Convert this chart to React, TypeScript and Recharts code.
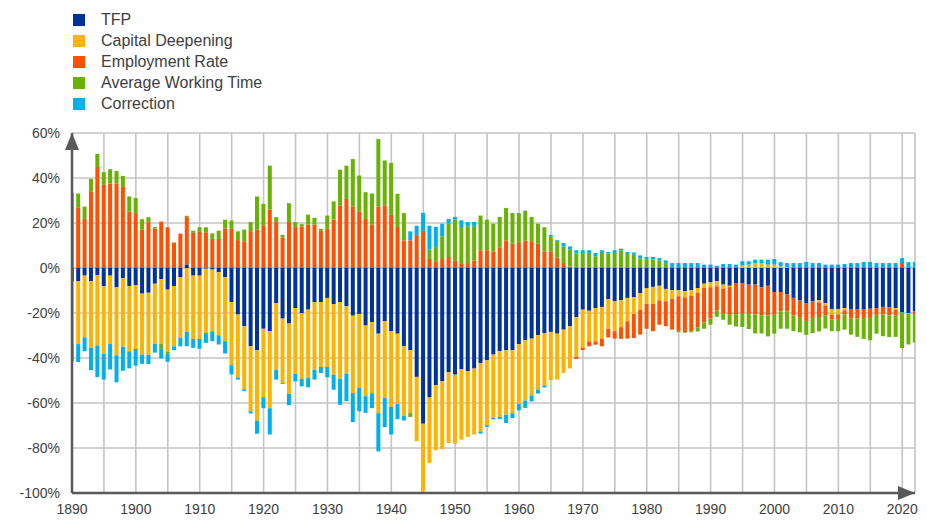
import React from 'react';
import { BarChart, Bar, XAxis, YAxis, CartesianGrid } from 'recharts';

// one value per year, 1890 .. 2022 (percent)
const firstYear = 1890;

const tfp = [
  -5.9, -5.9, -3.4, -5.9, -3.1, -8.1, -3.4, -8.6, -4.6, -8.0,
  -7.6, -11.4, -11.0, -7.0, -5.0, -9.6, -8.0, -4.0, 1.6, -3.4,
  -3.4, -0.3, -0.7, -1.9, -4.1, -15.1, -20.7, -25.9, -34.8, -36.6,
  -27.0, -28.1, -15.6, -22.5, -24.7, -17.8, -20.0, -18.5, -15.1, -15.1,
  -13.3, -16.0, -15.1, -17.0, -21.2, -20.4, -25.6, -24.0, -29.2, -23.7,
  -28.1, -29.2, -34.8, -36.6, -48.4, -69.2, -57.5, -52.1, -50.4, -46.4,
  -47.4, -44.9, -45.9, -44.7, -42.2, -41.0, -38.5, -37.0, -36.6, -36.6,
  -33.8, -32.1, -31.4, -29.9, -28.9, -28.4, -29.2, -27.4, -25.9, -21.9,
  -18.5, -19.0, -17.8, -17.3, -13.8, -14.8, -14.4, -13.3, -13.0, -11.1,
  -8.9, -8.4, -7.9, -9.3, -9.9, -9.9, -10.4, -9.9, -8.9, -7.0,
  -6.4, -5.9, -7.4, -7.9, -6.7, -6.7, -7.4, -7.4, -8.6, -7.9,
  -10.7, -10.7, -11.6, -13.3, -14.5, -15.6, -14.8, -14.4, -15.6, -18.2,
  -18.2, -17.8, -18.5, -18.5, -18.5, -18.1, -17.8, -17.3, -17.5, -17.8,
  -19.7, -20.0, -19.3,
];

const capitalDeepening = [
  -27.9, -27.9, -27.4, -29.6, -31.3, -30.1, -30.4, -30.2, -30.4, -29.0,
  -28.4, -27.1, -27.6, -26.7, -28.7, -27.6, -26.5, -27.1, -28.4, -28.1,
  -28.1, -28.6, -27.4, -28.0, -28.4, -28.1, -27.9, -28.1, -28.9, -31.3,
  -30.4, -34.2, -29.6, -28.6, -31.3, -29.3, -29.3, -30.4, -30.1, -28.9,
  -30.7, -31.4, -34.1, -29.9, -34.4, -32.9, -31.4, -31.6, -35.3, -34.1,
  -33.6, -31.3, -30.8, -27.9, -28.6, -30.1, -29.2, -28.9, -30.1, -31.4,
  -30.8, -31.4, -29.2, -29.3, -30.4, -28.9, -28.1, -29.2, -28.6, -27.9,
  -26.7, -26.8, -25.2, -24.1, -23.3, -21.5, -20.4, -19.3, -18.7, -17.6,
  -17.0, -13.6, -14.8, -14.1, -13.2, -13.3, -11.9, -10.4, -7.4, -7.4,
  -7.1, -7.6, -6.5, -5.5, -3.9, -2.7, -2.7, -2.4, -2.2, -1.8,
  -2.2, -2.2, -1.8, -0.6, 0, 1.2, 1.5, 2.2, 2.2, 1.5,
  1.5, 0.7, 0.4, 0, 0, 0, 0, -0.9, -1.0, -2.5,
  -2.5, -1.0, 0, 0, 0, 0, 0, 0, 0, -0.7,
  0, -0.4, 0,
];

const employmentRate = [
  27.7, 27.0, 21.8, 34.1, 44.9, 37.0, 37.5, 37.5, 36.0, 25.0,
  24.4, 17.0, 20.4, 17.5, 20.6, 18.1, 11.3, 15.3, 21.0, 15.6,
  16.3, 15.9, 13.0, 12.9, 17.5, 17.5, 12.4, 11.9, 16.4, 17.0,
  19.0, 25.9, 20.4, 13.5, 20.4, 18.2, 18.5, 19.3, 19.3, 16.4,
  17.5, 21.5, 27.7, 30.7, 27.4, 25.2, 21.8, 19.3, 27.4, 27.9,
  23.7, 18.2, 12.3, 12.3, 14.6, 16.5, 4.0, 3.0, 4.0, 4.9,
  3.3, 1.8, 2.2, 3.3, 7.9, 7.9, 7.4, 9.2, 12.3, 10.8,
  11.1, 12.3, 11.9, 10.8, 7.4, 7.4, 4.7, 2.2, 0.7, -0.9,
  -1.0, -2.2, -1.5, -3.4, -3.9, -3.3, -5.2, -7.7, -10.7, -11.1,
  -11.0, -12.1, -10.8, -11.1, -13.6, -15.3, -15.4, -15.9, -15.3, -15.4,
  -13.9, -10.8, -10.8, -12.3, -13.8, -13.3, -12.6, -13.3, -12.4, -13.2,
  -10.1, -8.6, -7.7, -7.7, -7.3, -7.9, -7.4, -6.5, -4.4, -2.2,
  -1.9, -1.9, -4.0, -4.0, -3.7, -4.1, -3.0, -3.4, -3.6, -2.5,
  2.2, 0.4, -1.5,
];

const averageWorkingTime = [
  5.6, 6.1, 5.5, 5.5, 5.8, 5.6, 6.4, 5.6, 4.9, 6.8,
  6.7, 4.7, 2.2, 0.7, -2.2, -0.9, -0.4, 0, 0.6, 1.0,
  1.8, 2.2, 2.4, 3.7, 4.0, 3.6, 3.9, 5.2, 4.0, 14.8,
  9.5, 19.6, 2.2, 1.2, 8.4, 2.2, 1.0, 4.4, 3.0, 1.0,
  5.8, 8.1, 16.0, 14.8, 21.0, 15.9, 11.9, 13.8, 29.9, 19.9,
  23.0, 14.8, 12.1, -1.7, 0, 0, 4.1, 6.4, 10.1, 14.8,
  18.2, 16.4, 16.3, 15.0, 15.4, 13.6, 12.3, 13.5, 14.4, 13.6,
  13.3, 13.2, 10.8, 8.9, 10.7, 6.7, 7.4, 7.4, 7.4, 6.4,
  6.7, 6.7, 5.2, 6.7, 6.4, 6.7, 7.9, 6.2, 5.9, 4.3,
  3.7, 3.7, 3.4, 2.2, 0.4, -0.6, -0.3, -0.4, -1.8, -2.8,
  -2.7, -2.8, -3.0, -4.4, -5.5, -6.2, -7.1, -8.4, -8.1, -9.3,
  -8.4, -7.7, -7.7, -7.1, -6.8, -6.2, -6.7, -6.4, -5.9, -5.2,
  -5.5, -6.7, -7.1, -8.1, -9.3, -9.9, -8.4, -9.6, -9.6, -9.6,
  -15.9, -13.6, -12.3,
];

const correction = [
  -7.7, -8.0, -6.2, -9.9, -14.1, -11.4, -11.3, -12.0, -10.7, -7.6,
  -7.4, -4.1, -4.1, -3.9, -4.3, -3.6, -1.6, -3.7, -6.4, -4.0,
  -4.4, -4.4, -4.4, -4.1, -5.5, -4.1, -1.0, -0.7, -0.9, -5.8,
  -4.9, -11.7, -4.4, -0.4, -5.0, -3.3, -3.3, -4.1, -4.4, -2.7,
  -4.6, -6.7, -11.6, -12.3, -12.9, -10.4, -7.4, -6.7, -17.0, -12.9,
  -12.3, -6.7, -2.2, 4.0, 4.2, 8.0, 10.7, 8.9, 5.6, 2.1,
  1.2, 3.0, 1.9, 2.2, -1.0, -0.7, -0.7, -0.9, -3.7, -2.2,
  -2.8, -3.3, -2.7, -1.8, -0.9, 0.6, 0.4, 1.5, 1.5, 1.5,
  1.2, 1.2, 1.5, 1.2, 0.7, 1.2, 0.7, 0.9, 1.0, 1.3,
  1.2, 1.2, 1.0, 1.2, 1.8, 2.2, 2.2, 2.2, 2.2, 1.5,
  1.5, 1.0, 1.8, 1.8, 1.5, 1.8, 1.5, 1.5, 1.5, 2.2,
  2.5, 1.9, 1.8, 2.2, 2.2, 2.7, 2.2, 2.2, 1.5, 1.5,
  1.5, 1.8, 2.2, 2.2, 2.7, 2.7, 2.2, 2.2, 2.2, 2.2,
  2.2, 2.2, 2.7,
];

const years = tfp.map((_, i) => firstYear + i);

const gridYears = [
  1890, 1895, 1900, 1905, 1910, 1915, 1920, 1925, 1930, 1935, 1940, 1945, 1950,
  1955, 1960, 1965, 1970, 1975, 1980, 1985, 1990, 1995, 2000, 2005, 2010, 2015, 2020,
];
const percentTicks = [-100, -80, -60, -40, -20, 0, 20, 40, 60];

const series = [
  { key: 'tfp', name: 'TFP', color: '#003399' },
  { key: 'capital', name: 'Capital Deepening', color: '#FFB300' },
  { key: 'employment', name: 'Employment Rate', color: '#FF5000' },
  { key: 'workingTime', name: 'Average Working Time', color: '#66B300' },
  { key: 'correction', name: 'Correction', color: '#00B0EC' },
];

const data = years.map((year, i) => ({
  year,
  tfp: tfp[i],
  capital: capitalDeepening[i],
  employment: employmentRate[i],
  workingTime: averageWorkingTime[i],
  correction: correction[i],
}));

const axisColor = '#595959';
const font = "'Liberation Sans', Arial, sans-serif";

// arrow heads at the end of each axis
const YArrow = (props: any) => {
  const vb = props.viewBox || {};
  const ax = vb.x + vb.width;
  const top = vb.y;
  return <path d={`M${ax - 7},${top + 17} L${ax},${top} L${ax + 7},${top + 17} Z`} fill={axisColor} />;
};

const XArrow = (props: any) => {
  const vb = props.viewBox || {};
  const right = vb.x + vb.width;
  const ay = vb.y;
  return <path d={`M${right - 17},${ay - 7} L${right},${ay} L${right - 17},${ay + 7} Z`} fill={axisColor} />;
};

const ChartLegend = () => (
  <div style={{ position: 'absolute', left: 73, top: 9, fontFamily: font, fontSize: 16, color: '#404040' }}>
    {series.map((s) => (
      <div key={s.key} style={{ display: 'flex', alignItems: 'center', height: 21 }}>
        <span style={{ display: 'inline-block', width: 12, height: 12, background: s.color, marginRight: 16 }} />
        <span>{s.name}</span>
      </div>
    ))}
  </div>
);

export default function App() {
  return (
    <div style={{ position: 'absolute', left: 0, top: 0, width: 927, height: 523, background: '#fff' }}>
      <ChartLegend />
      <BarChart
        width={927}
        height={523}
        data={data}
        stackOffset="sign"
        barSize={4}
        margin={{ top: 133, right: 12, bottom: 0, left: 0 }}
      >
        <CartesianGrid stroke="#c4c4c4" strokeWidth={1.6} />
        <XAxis
          type="number"
          dataKey="year"
          domain={[1890, 2022]}
          ticks={gridYears}
          interval={0}
          allowDataOverflow
          tickFormatter={(v: number) => (v % 10 === 0 ? String(v) : '')}
          axisLine={{ stroke: axisColor, strokeWidth: 2.5 }}
          tickLine={false}
          tick={{ fill: '#404040', fontSize: 14, fontFamily: font }}
          tickMargin={5}
          height={30}
          label={XArrow}
        />
        <YAxis
          type="number"
          domain={[-100, 60]}
          ticks={percentTicks}
          interval={0}
          tickFormatter={(v: number) => `${v}%`}
          axisLine={{ stroke: axisColor, strokeWidth: 2.5 }}
          tickLine={false}
          tick={{ fill: '#404040', fontSize: 14, fontFamily: font }}
          tickMargin={6}
          width={72}
          label={YArrow}
        />
        {series.map((s) => (
          <Bar key={s.key} dataKey={s.key} name={s.name} stackId="a" fill={s.color} isAnimationActive={false} />
        ))}
      </BarChart>
    </div>
  );
}
